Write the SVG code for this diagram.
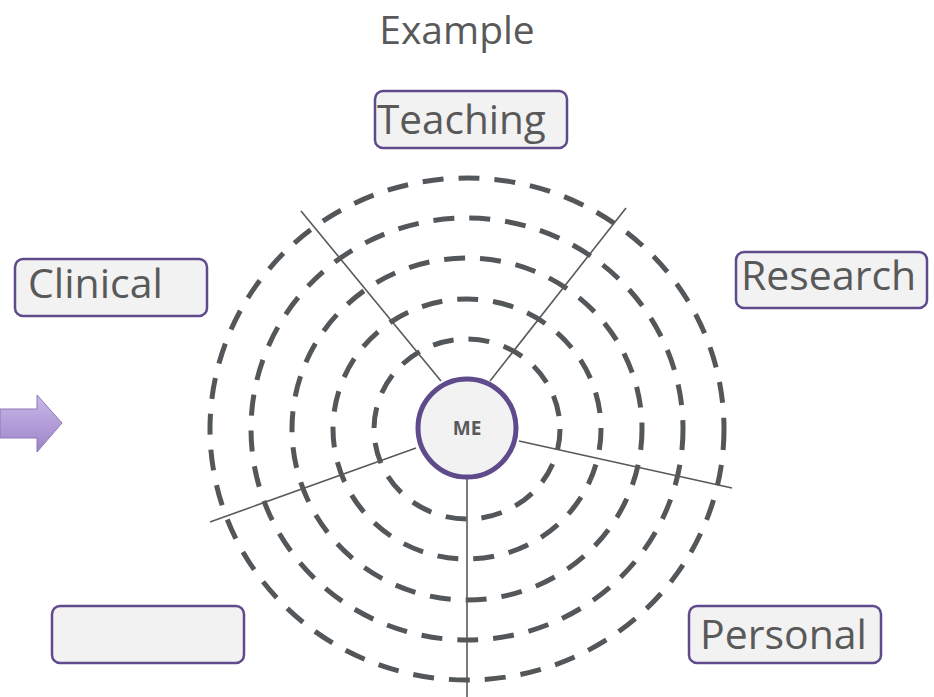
<svg xmlns="http://www.w3.org/2000/svg" width="934" height="697" viewBox="0 0 934 697">
<defs>
<linearGradient id="ag" x1="0" y1="0" x2="0" y2="1">
<stop offset="0" stop-color="#c9b8e8"/>
<stop offset="1" stop-color="#9d84c9"/>
</linearGradient>
</defs>
<style>
.box{fill:#f2f2f2;stroke:#5f4b8b;stroke-width:2.5}
.lbl{font-family:"Open Sans","Liberation Sans",sans-serif;fill:#595959;font-size:41px}
.ring{fill:none;stroke:#53575a;stroke-width:5;stroke-dasharray:21 15}
.spoke{stroke:#595959;stroke-width:1.6}
</style>
<rect width="934" height="697" fill="#ffffff"/>
<text x="457" y="44" text-anchor="middle" class="lbl" style="font-size:39px">Example</text>
<g id="arrow">
<path d="M0,409 H37 V395 L62,423 L37,452 V438 H0 Z" fill="url(#ag)" stroke="#8d78b8" stroke-width="1"/>
</g>
<g id="rings">
<ellipse class="ring" cx="467" cy="429" rx="93" ry="90"/>
<ellipse class="ring" cx="467" cy="429" rx="134" ry="130"/>
<ellipse class="ring" cx="467" cy="429" rx="175" ry="171"/>
<ellipse class="ring" cx="467" cy="429" rx="216" ry="211"/>
<ellipse class="ring" cx="467" cy="429" rx="257" ry="251"/>
</g>
<g id="connectors">
<line class="spoke" x1="441" y1="381" x2="301" y2="211"/>
<line class="spoke" x1="490" y1="381" x2="626" y2="208"/>
<line class="spoke" x1="519" y1="441" x2="732" y2="488"/>
<line class="spoke" x1="416" y1="448" x2="210" y2="522"/>
<line class="spoke" x1="467" y1="479" x2="467" y2="697"/>
</g>
<g id="me">
<circle cx="467" cy="428" r="49" fill="#f2f2f2" stroke="#5f4b8b" stroke-width="5"/>
<text x="467" y="435" text-anchor="middle" style="font-family:'Open Sans','Liberation Sans',sans-serif;font-weight:bold;font-size:19px;fill:#595959">ME</text>
</g>
<g id="teaching">
<rect class="box" x="375" y="91" width="192" height="57" rx="8"/>
<text class="lbl" x="377" y="134" style="font-size:40.5px">Teaching</text>
</g>
<g id="clinical">
<rect class="box" x="15" y="259" width="192" height="57" rx="8"/>
<text class="lbl" x="28" y="298">Clinical</text>
</g>
<g id="research">
<rect class="box" x="736" y="252" width="191" height="56" rx="8"/>
<text class="lbl" x="741" y="290">Research</text>
</g>
<g id="personal">
<rect class="box" x="689" y="606" width="192" height="57" rx="8"/>
<text class="lbl" x="700" y="649">Personal</text>
</g>
<g id="empty">
<rect class="box" x="52" y="606" width="192" height="57" rx="8"/>
</g>
</svg>
